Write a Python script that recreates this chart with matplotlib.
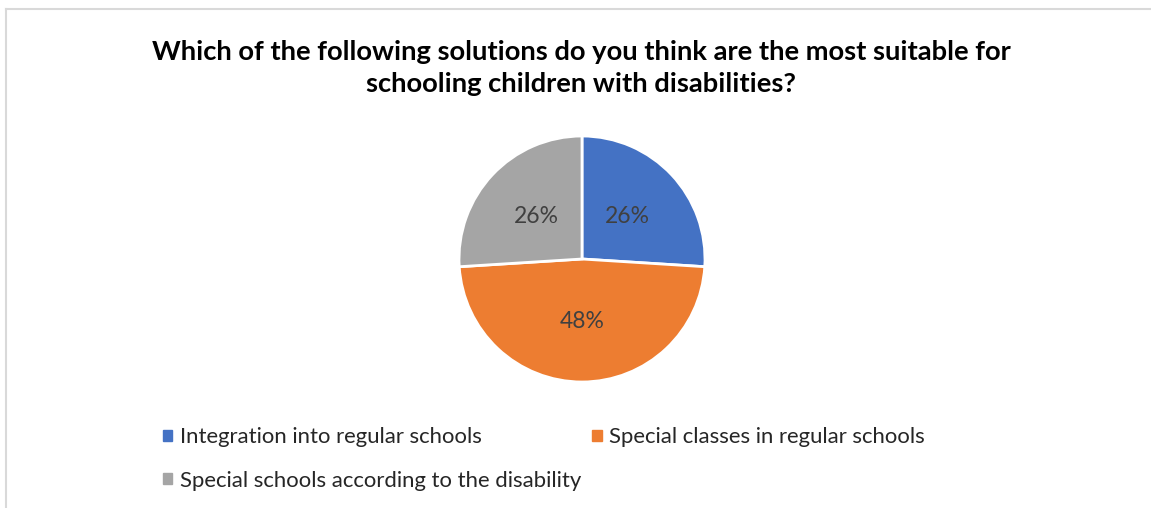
import matplotlib.pyplot as plt
from matplotlib.patches import Rectangle
from matplotlib.lines import Line2D

plt.rcParams['font.family'] = ['Lato', 'DejaVu Sans']

title = ("Which of the following solutions do you think are the most suitable for\n"
         "schooling children with disabilities?")
labels = ["Integration into regular schools",
          "Special classes in regular schools",
          "Special schools according to the disability"]
shares = [26, 48, 26]
colors = ["#4472C4", "#ED7D31", "#A5A5A5"]

W, H = 1151, 508
fig = plt.figure(figsize=(W / 100, H / 100), dpi=100)

# light frame around the chart area
fig.add_artist(Line2D([6 / W, 1], [1 - 9 / H, 1 - 9 / H], color="#D9D9D9", lw=1.5))
fig.add_artist(Line2D([6 / W, 6 / W], [0, 1 - 9 / H], color="#D9D9D9", lw=1.5))

fig.text(581 / W, 1 - 68 / H, title, ha="center", va="center", fontsize=19.7,
         fontweight="bold", color="black", linespacing=1.38)

# pie centred at (582, 259) px, radius 123 px
r = 123
lim = 1.1
side = 2 * r * lim
ax = fig.add_axes([(582 - side / 2) / W, (H - 259 - side / 2) / H, side / W, side / H])
wedges, texts, autotexts = ax.pie(
    shares, colors=colors, startangle=90, counterclock=False,
    autopct=lambda p: f"{p:.0f}%", pctdistance=0.51,
    wedgeprops=dict(edgecolor="white", linewidth=2),
    textprops=dict(color="#404040", fontsize=16.5))
ax.set_xlim(-lim, lim)
ax.set_ylim(-lim, lim)
ax.set_aspect("equal")

# legend: two columns, filled column-wise
order = [0, 2, 1]
handles = [Rectangle((0, 0), 1, 1, color=colors[i]) for i in order]
fig.legend(handles, [labels[i] for i in order], ncol=2, frameon=False,
           loc="center left", bbox_to_anchor=(163 / W, 1 - 459 / H),
           fontsize=15.9, handlelength=0.42, handleheight=0.42, handletextpad=0.35,
           columnspacing=0.5, labelspacing=1.05, borderaxespad=0, borderpad=0,
           labelcolor="#262626")

fig.savefig("out.png", dpi=100, facecolor="white")
